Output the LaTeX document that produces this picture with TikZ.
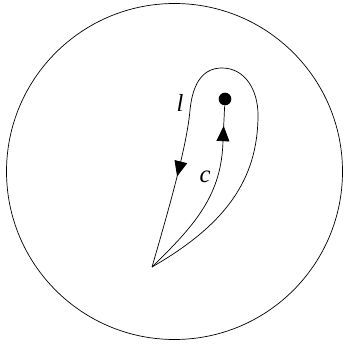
\documentclass[tikz,border=0pt]{standalone}
\usepackage{fontspec}
\setmainfont{Liberation Serif}
\usetikzlibrary{arrows.meta, decorations.markings}

\begin{document}
\begin{tikzpicture}[x=0.03cm, y=-0.03cm, line width=0.6pt,
  midarrow/.style={postaction={decorate, decoration={markings,
      mark=at position #1 with {\arrow{Triangle[length=13pt,width=11pt]}}}}},
  lab/.style={font=\fontsize{21}{25}\selectfont\itshape}]
  \useasboundingbox (0,0) rectangle (343,346);
  % disc
  \draw (174.5,171.5) circle[radius=168];
  % base point and puncture
  \coordinate (base) at (152,267);
  \node[circle, fill, inner sep=0pt, minimum size=0.38cm] (pt) at (225,99) {};
  % loop l
  \draw[midarrow=0.805] (base) .. controls (225,225) and (258,180) .. (258,115)
    .. controls (258,90) and (245,68) .. (222,68)
    .. controls (205,68) and (193,80) .. (190,110)
    .. controls (187,145) and (170,205) .. (base);
  % path c
  \draw[midarrow=0.89] (base) .. controls (195,225) and (222,195) .. (223,140) -- (pt);
  \node[lab] (ll) at (180,103) {l};
  \node[lab] (lc) at (205,177) {c};
\end{tikzpicture}
\end{document}
